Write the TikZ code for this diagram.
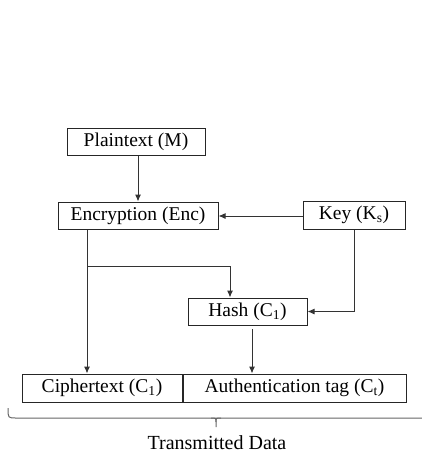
\documentclass[tikz,border=0pt]{standalone}
\usepackage{fontspec}
\setmainfont{Liberation Serif}
\usetikzlibrary{arrows.meta}
\begin{document}
\begin{tikzpicture}[x=1pt,y=-1pt,
  box/.style={draw=black!85, line width=1pt, inner sep=0pt, font=\fontsize{19.5}{22}\selectfont},
  conn/.style={draw=black!80, line width=1pt},
  arr/.style={conn, -{Latex[length=7pt,width=6pt]}},
  bracecol/.style={draw=black!60, line width=1pt}]
\useasboundingbox (0,0) rectangle (422,452);
\node[box, minimum width=138pt, minimum height=27pt] (P) at (136,141.5) {Plaintext (M)};
\node[box, minimum width=160pt, minimum height=27pt] (E) at (138,215.5) {Encryption (Enc)};
\node[box, minimum width=102pt, minimum height=28pt] (K) at (354,215) {Key (K\textsubscript{s})};
\node[box, minimum width=119pt, minimum height=27pt] (H) at (247.5,311.5) {Hash (C\textsubscript{1})};
\node[box, minimum width=160pt, minimum height=28pt] (C) at (102,388) {Ciphertext (C\textsubscript{1})};
\node[box, minimum width=223pt, minimum height=28pt, anchor=west] (A) at (C.east) {Authentication tag (C\textsubscript{t})};
\node[font=\fontsize{20}{22}\selectfont, inner sep=0pt] (T) at (217,443) {Transmitted Data};
\coordinate (j) at (87,266);
\coordinate (hb) at (230,266);
\coordinate (hs) at (252,329);
\draw[arr] (P.south -| 138,0) -- (E.north -| 138,0);
\draw[arr] (K.west |- 0,216) -- (E.east |- 0,216);
\draw[arr] (E.south -| j) -- (C.north -| j);
\draw[arr] (j) -- (hb) -- (H.north -| hb);
\draw[arr] (K.south) -- (K.south |- H.east) -- (H.east);
\draw[arr] (hs) -- (A.north -| hs);
% brace
\draw[bracecol] (8,408) .. controls (8,418) .. (16,418) -- (422,418);
\draw[bracecol] (211,418) .. controls (216,418) .. (216,422) -- (216,427);
\draw[bracecol] (221,418) .. controls (216,418) .. (216,422);
\end{tikzpicture}
\end{document}
